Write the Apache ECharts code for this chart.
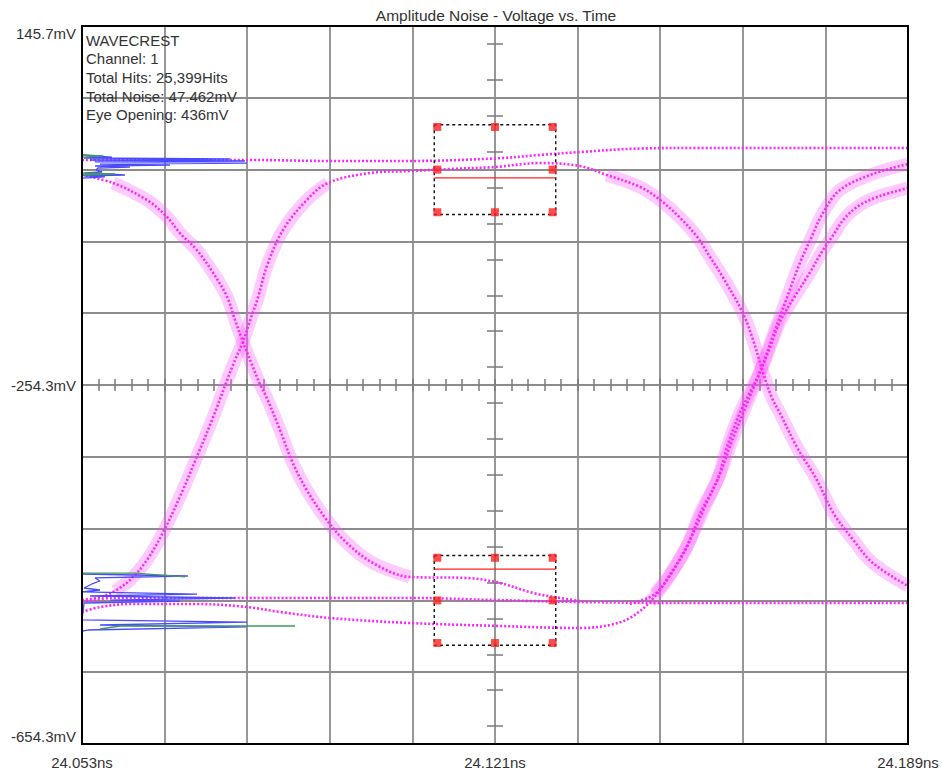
<!DOCTYPE html>
<html><head><meta charset="utf-8">
<script src="https://cdn.jsdelivr.net/npm/echarts@6/dist/echarts.min.js"></script>
<style>html,body{margin:0;padding:0;background:#fff}#c{width:942px;height:771px}</style>
</head><body><div id="c"></div>
<script>
// ---- texts ----
const chartTitle = 'Amplitude Noise - Voltage vs. Time';
const infoLines = ['WAVECREST', 'Channel: 1', 'Total Hits: 25,399Hits', 'Total Noise: 47.462mV', 'Eye Opening: 436mV'];
const xTickLabels = ['24.053ns', '24.121ns', '24.189ns'];
const yTickLabels = ['145.7mV', '-254.3mV', '-654.3mV'];
const timeRange = [24.053, 24.189];   // ns
const voltRange = [-654.3, 145.7];    // mV

// ---- eye traces (time ns, voltage mV) ----
const tA = [24.0530, 24.0642, 24.0807, 24.0938, 24.1070, 24.1210, 24.1284, 24.1350, 24.1449, 24.1548, 24.1712, 24.1890];
const vA = [-3.6, -3.6, -3.6, -4.7, -4.7, -1.9, 2.0, 5.3, 9.2, 9.8, 9.8, 9.8];

const tC = [24.0530, 24.0581, 24.0637, 24.0670, 24.0691, 24.0719, 24.0746, 24.0769, 24.0782, 24.0795, 24.0810, 24.0823, 24.0835, 24.0856, 24.0877, 24.0900, 24.0933, 24.0966, 24.1009, 24.1070, 24.1164, 24.1218, 24.1273, 24.1317, 24.1350];
const vC = [-20.3, -29.2, -48.2, -67.1, -84.9, -103.9, -129.5, -156.3, -181.9, -206.4, -232.0, -253.2, -269.9, -304.4, -341.2, -371.3, -404.7, -430.3, -452.6, -468.2, -469.3, -474.9, -486.1, -491.6, -495.0];

const tD = [24.0530, 24.0560, 24.0584, 24.0609, 24.0637, 24.0663, 24.0691, 24.0719, 24.0746, 24.0769, 24.0782, 24.0795, 24.0807, 24.0820, 24.0835, 24.0861, 24.0900, 24.0935, 24.1004, 24.1070, 24.1136, 24.1210, 24.1284, 24.1350, 24.1394, 24.1449, 24.1482, 24.1515, 24.1543, 24.1564, 24.1585, 24.1618, 24.1635, 24.1651, 24.1666, 24.1679, 24.1707, 24.1740, 24.1767, 24.1800, 24.1832, 24.1890];
const vD = [-493.9, -490.5, -483.8, -471.6, -449.3, -419.2, -379.1, -334.5, -290.0, -248.7, -226.4, -206.4, -181.9, -156.3, -120.6, -81.6, -48.2, -29.2, -18.1, -15.9, -13.6, -11.4, -7.0, -10.3, -20.3, -33.7, -48.2, -68.2, -89.4, -111.7, -134.0, -174.1, -204.2, -239.8, -268.8, -285.5, -323.4, -360.2, -396.9, -427.0, -452.6, -478.3];

const tE = [24.0530, 24.0560, 24.0609, 24.0719, 24.0802, 24.0856, 24.0938, 24.1070, 24.1218, 24.1350, 24.1399, 24.1432, 24.1465, 24.1493, 24.1526, 24.1548, 24.1576, 24.1592, 24.1613, 24.1630, 24.1646, 24.1668, 24.1691, 24.1712, 24.1729, 24.1750, 24.1778, 24.1832, 24.1890];
const vE = [-507.2, -501.7, -498.3, -498.3, -501.7, -507.2, -513.9, -519.5, -522.8, -525.1, -521.7, -513.9, -496.1, -471.6, -434.8, -396.9, -360.2, -323.4, -285.5, -262.1, -239.8, -198.6, -156.3, -118.4, -92.7, -62.7, -37.0, -19.2, -8.1];

const tF = [24.0530, 24.0581, 24.0724, 24.0889, 24.1070, 24.1210, 24.1350, 24.1548, 24.1712, 24.1890];
const vF = [-496.1, -491.6, -491.6, -491.6, -491.6, -493.9, -496.1, -497.2, -497.2, -497.2];

const tG = [24.1432, 24.1473, 24.1501, 24.1531, 24.1556, 24.1581, 24.1600, 24.1622, 24.1641, 24.1660, 24.1679, 24.1704, 24.1729, 24.1748, 24.1767, 24.1786, 24.1811, 24.1844, 24.1890];
const vG = [-498.3, -487.2, -462.7, -427.0, -389.1, -352.4, -316.7, -279.9, -248.7, -217.5, -184.1, -155.1, -128.4, -106.1, -87.2, -68.2, -53.7, -43.7, -34.8];

// ---- histograms (hits, mV) ----
const histTopHits = [0, 14.5, 1.0, 71.7, 3.9, 78.9, 6.3, 79.9, 8.7, 42.6, 6.3, 23.2, 7.7, 6.8, 9.7, 1.5, 20.8, 1.0, 11.1, 0];
const histTopV = [2.0, -0.3, -1.4, -2.5, -3.6, -4.7, -5.8, -7.0, -8.1, -9.2, -10.3, -11.4, -12.5, -14.7, -17.0, -18.1, -20.3, -21.4, -22.5, -23.7];
const histTopGreen1Hits = [0, 10.2, 0], histTopGreen1V = [2.0, 0.9, -0.3];
const histTopGreen2Hits = [0, 16.0, 0], histTopGreen2V = [-18.1, -19.2, -20.3];
const histBotHits = [0, 51.3, 6.3, 8.7, 4.8, 1.0, 8.7, 0, 55.7, 3.9, 74.1, 13.6, 47.5, 1.0, 0, 79.9, 8.7, 79.9, 2.9, 0];
const histBotV = [-464.9, -467.1, -469.3, -472.7, -476.0, -480.5, -482.7, -484.9, -487.2, -489.4, -491.6, -493.9, -495.0, -497.2, -516.1, -518.4, -521.7, -523.9, -527.3, -528.4];
const histBotGreen1Hits = [0, 25.7, 49.9], histBotGreen1V = [-463.8, -463.8, -468.2];
const histBotGreen2Hits = [8.7, 18.4, 103.2], histBotGreen2V = [-526.2, -522.8, -522.8];
const hitsRange = [0, 400];

// ---- masks ----
const maskT = [24.111, 24.131];
const topMaskV = [35.7, -64.3];
const botMaskV = [-444.3, -544.3];
const markerT = [24.1115, 24.121, 24.1305];
const topMarkerV = [33.2, -14.3, -61.8];
const botMarkerV = [-446.8, -494.3, -541.8];
const eyeLineV = [-23.5, -459.5];

// ---- build ----
const pairs = (t, v) => t.map((x, i) => [x, v[i]]);
const FONT = '"Liberation Sans", Arial, sans-serif';
const gridColor = '#8c8c8c';
const series = [];

function band(data) {
  series.push({type: 'line', xAxisIndex: 3, yAxisIndex: 3, data, smooth: 0.35, symbol: 'none', silent: true, z: 2,
    lineStyle: {color: 'rgba(255,80,255,0.3)', width: 13, cap: 'butt', join: 'round'}});
}
function dots(data) {
  series.push({type: 'line', xAxisIndex: 3, yAxisIndex: 3, data, smooth: 0.35, symbol: 'none', silent: true, z: 3,
    lineStyle: {color: '#ff22ff', width: 2.6, type: [2, 2]}});
}
const A = pairs(tA, vA), C = pairs(tC, vC), D = pairs(tD, vD), E = pairs(tE, vE), F = pairs(tF, vF), G = pairs(tG, vG);
band(C.slice(1, 20)); band(D.slice(2, 18)); band(D.slice(24)); band(E.slice(12)); band(G.slice(1));
[A, C, D, E, F, G].forEach(dots);

function hist(h, v, color, w) {
  series.push({type: 'line', xAxisIndex: 4, yAxisIndex: 3, data: pairs(h, v), symbol: 'none', silent: true, z: 4,
    lineStyle: {color, width: w}});
}
hist(histTopHits, histTopV, '#4a4aff', 1.3);
hist(histBotHits, histBotV, '#4a4aff', 1.3);
hist(histTopGreen1Hits, histTopGreen1V, '#3f9a60', 1.3);
hist(histTopGreen2Hits, histTopGreen2V, '#3f9a60', 1.3);
hist(histBotGreen1Hits, histBotGreen1V, '#3f9a60', 1.3);
hist(histBotGreen2Hits, histBotGreen2V, '#3f9a60', 1.6);

function mask(mv, mk, eyeV) {
  const [t0, t1] = maskT, [va, vb] = mv;
  series.push({type: 'line', xAxisIndex: 3, yAxisIndex: 3, symbol: 'none', silent: true, z: 5,
    data: [[t0, va], [t1, va], [t1, vb], [t0, vb], [t0, va]],
    lineStyle: {color: '#111', width: 1.4, type: [3, 3]}});
  series.push({type: 'line', xAxisIndex: 3, yAxisIndex: 3, symbol: 'none', silent: true, z: 5,
    data: [[t0, eyeV], [t1, eyeV]], lineStyle: {color: '#ff2020', width: 1.3}});
  const pts = [];
  mk.forEach((v, j) => markerT.forEach((t, i) => { if (!(i === 1 && j === 1)) pts.push([t, v]); }));
  series.push({type: 'scatter', xAxisIndex: 3, yAxisIndex: 3, symbol: 'rect', symbolSize: 8, silent: true, z: 6,
    data: pts, itemStyle: {color: '#ff2020'}});
}
mask(topMaskV, topMarkerV, eyeLineV[0]);
mask(botMaskV, botMarkerV, eyeLineV[1]);

const hidden = {show: false};
const option = {
  backgroundColor: '#fff',
  animation: false,
  grid: {left: 82, top: 26, width: 826, height: 718, show: true, borderColor: '#000', borderWidth: 2, backgroundColor: 'transparent', z: 10},
  xAxis: [
    {type: 'value', min: -5, max: 5, interval: 1, position: 'bottom',
      axisLine: {show: false, onZero: false}, axisTick: hidden,
      splitLine: {show: true, lineStyle: {color: gridColor, width: 1.8}},
      axisLabel: {margin: 11, fontSize: 15, fontFamily: FONT, color: '#333',
        formatter: v => v === -5 ? xTickLabels[0] : v === 0 ? xTickLabels[1] : v === 5 ? xTickLabels[2] : ''}},
    {type: 'value', min: -25, max: 25, interval: 1, position: 'bottom', offset: -359,
      axisLine: {show: false, onZero: false}, axisLabel: hidden, splitLine: hidden,
      axisTick: {show: true, length: 6, lineStyle: {color: '#7a7a7a', width: 1.5}}},
    {type: 'value', min: -25, max: 25, interval: 1, position: 'bottom', offset: -359,
      axisLine: {show: false, onZero: false}, axisLabel: hidden, splitLine: hidden,
      axisTick: {show: true, inside: true, length: 6, lineStyle: {color: '#7a7a7a', width: 1.5}}},
    {type: 'value', min: timeRange[0], max: timeRange[1], show: false, axisLine: {onZero: false}},
    {type: 'value', min: hitsRange[0], max: hitsRange[1], show: false, axisLine: {onZero: false}}
  ],
  yAxis: [
    {type: 'value', min: -5, max: 5, interval: 1, position: 'left',
      axisLine: {show: false, onZero: false}, axisTick: hidden,
      splitLine: {show: true, lineStyle: {color: gridColor, width: 1.8}},
      axisLabel: {margin: 6, fontSize: 15, fontFamily: FONT, color: '#333',
        verticalAlignMaxLabel: 'top', verticalAlignMinLabel: 'bottom',
        formatter: v => v === 5 ? yTickLabels[0] : v === 0 ? yTickLabels[1] : v === -5 ? yTickLabels[2] : ''}},
    {type: 'category', data: Array.from({length: 20}, (_, i) => 'q' + i), boundaryGap: true, position: 'left', offset: -413,
      axisLine: {show: false, onZero: false}, axisLabel: hidden, splitLine: hidden,
      axisTick: {show: true, alignWithLabel: true, interval: 0, length: 8, lineStyle: {color: '#7a7a7a', width: 1.5}}},
    {type: 'category', data: Array.from({length: 20}, (_, i) => 'q' + i), boundaryGap: true, position: 'left', offset: -413,
      axisLine: {show: false, onZero: false}, axisLabel: hidden, splitLine: hidden,
      axisTick: {show: true, inside: true, alignWithLabel: true, interval: 0, length: 8, lineStyle: {color: '#7a7a7a', width: 1.5}}},
    {type: 'value', min: voltRange[0], max: voltRange[1], show: false, axisLine: {onZero: false}}
  ],
  graphic: [
    {type: 'text', x: 496, y: 15, z: 20, style: {text: chartTitle, font: '15.5px ' + FONT, fill: '#333', align: 'center', verticalAlign: 'middle'}},
    {type: 'text', x: 86, y: 31, z: 20, style: {text: infoLines.join('\n'), font: '15px ' + FONT, lineHeight: 18.6, fill: '#333'}}
  ],
  series
};
const chart = echarts.init(document.getElementById('c'), null, {renderer: 'svg'});
chart.setOption(option);
</script></body></html>
